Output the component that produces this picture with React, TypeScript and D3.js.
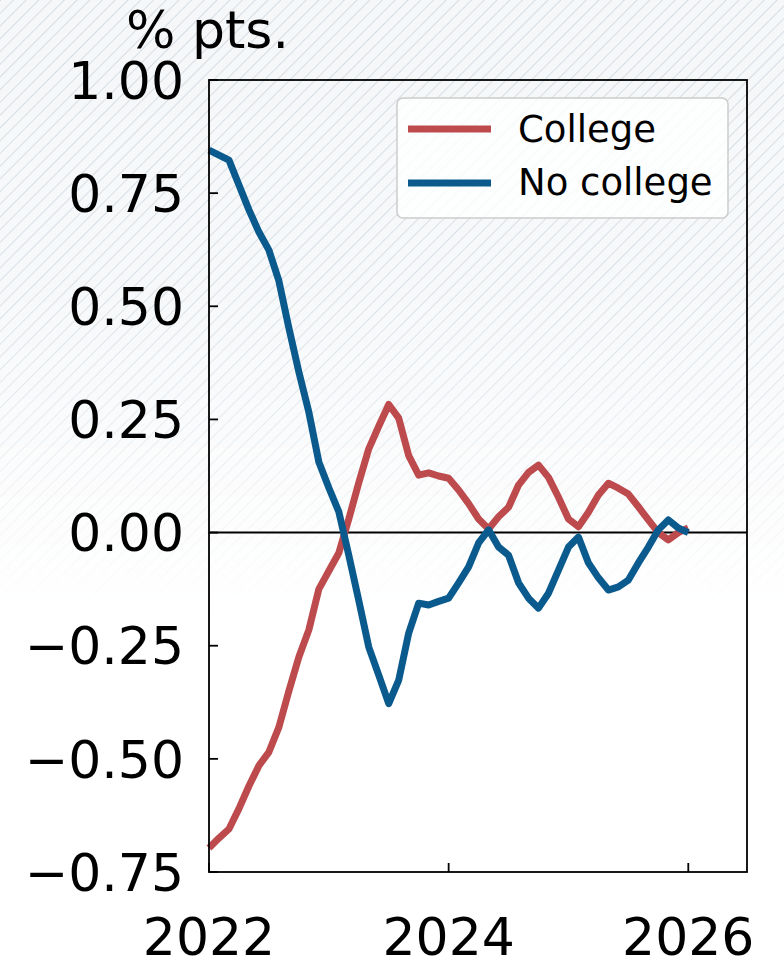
import React from 'react';
import * as d3 from 'd3';

// monthly, Jan 2022 .. Jan 2026
const startYear = 2022;
const college = [
  -0.697, -0.675, -0.655, -0.61, -0.56, -0.515, -0.485, -0.43, -0.35, -0.275, -0.215, -0.125,
  -0.085, -0.045, 0.03, 0.11, 0.185, 0.235, 0.283, 0.253, 0.17, 0.127, 0.132, 0.125,
  0.12, 0.094, 0.064, 0.03, 0.008, 0.035, 0.056, 0.105, 0.133, 0.149, 0.122, 0.078,
  0.03, 0.013, 0.045, 0.083, 0.109, 0.098, 0.085, 0.057, 0.028, 0.0, -0.016, 0.0,
  0.01,
];
const noCollege = [
  0.845, 0.834, 0.823, 0.768, 0.713, 0.664, 0.624, 0.556, 0.452, 0.355, 0.266, 0.156,
  0.099, 0.046, -0.05, -0.15, -0.253, -0.315, -0.378, -0.326, -0.222, -0.156, -0.16, -0.152,
  -0.145, -0.111, -0.076, -0.023, 0.006, -0.032, -0.05, -0.111, -0.145, -0.167, -0.134, -0.083,
  -0.032, -0.01, -0.067, -0.1, -0.127, -0.12, -0.105, -0.067, -0.032, 0.006, 0.028, 0.01,
  0.0,
];
const seriesNames = ['College', 'No college'];
const seriesColors = ['#bd4b4e', '#0a5a8e'];
const yTicks = [-0.75, -0.5, -0.25, 0, 0.25, 0.5, 0.75, 1.0];
const xTicks = [2022, 2024, 2026];

const W = 784;
const H = 963;
const left = 209;
const right = 747;
const top = 80;
const bottom = 872;

export default function App() {
  const x = d3.scaleLinear().domain([2022, 2026.49]).range([left, right]);
  const y = d3.scaleLinear().domain([-0.75, 1.0]).range([bottom, top]);
  const line = d3.line<number>()
    .x((_, i) => x(startYear + i / 12))
    .y(d => y(d));
  const fmt = (v: number) => d3.format('.2f')(v).replace('-', '\u2212');
  const font = 'DejaVu Sans, sans-serif';

  return (
    <svg width={W} height={H} style={{ position: 'absolute', left: 0, top: 0 }} fontFamily={font}>
      <defs>
        <pattern id="hatch" width="9" height="9" patternUnits="userSpaceOnUse" patternTransform="rotate(45)">
          <line x1="0" y1="0" x2="0" y2="9" stroke="#d0d8e0" strokeWidth="1.7" />
        </pattern>
        <linearGradient id="fade" x1="0" y1="0" x2="0" y2="1">
          <stop offset="0" stopColor="#fff" stopOpacity="1" />
          <stop offset="0.3" stopColor="#fff" stopOpacity="0.85" />
          <stop offset="0.64" stopColor="#fff" stopOpacity="0" />
        </linearGradient>
        <mask id="fadeMask">
          <rect x="0" y="0" width={W} height={H} fill="url(#fade)" />
        </mask>
      </defs>
      <rect width={W} height={H} fill="#fff" />
      <rect width={W} height={H} fill="#f5f7f9" mask="url(#fadeMask)" />
      <rect width={W} height={H} fill="url(#hatch)" mask="url(#fadeMask)" />

      {/* zero line */}
      <line x1={left} x2={right} y1={y(0)} y2={y(0)} stroke="#000" strokeWidth={2} />

      {[college, noCollege].map((s, i) => (
        <path key={i} d={line(s) ?? ''} fill="none" stroke={seriesColors[i]} strokeWidth={7}
          strokeLinejoin="round" strokeLinecap="butt" />
      ))}

      {/* frame */}
      <rect x={left} y={top} width={right - left} height={bottom - top} fill="none" stroke="#000" strokeWidth={1.8} />

      {yTicks.map(t => (
        <g key={t}>
          <line x1={left} x2={left + 9} y1={y(t)} y2={y(t)} stroke="#000" strokeWidth={1.8} />
          <text x={184} y={y(t)} dy="0.36em" textAnchor="end" fontSize={52}>{fmt(t)}</text>
        </g>
      ))}
      {xTicks.map(t => (
        <g key={t}>
          <line x1={x(t)} x2={x(t)} y1={bottom} y2={bottom - 9} stroke="#000" strokeWidth={1.8} />
          <text x={x(t)} y={955} textAnchor="middle" fontSize={52}>{t}</text>
        </g>
      ))}

      <text x={126} y={48} fontSize={52}>% pts.</text>

      {/* legend */}
      <rect x={397} y={98} width={331} height={120} rx={6} fill="#fff" fillOpacity={0.8} stroke="#cccccc" strokeWidth={1.5} />
      {seriesNames.map((n, i) => (
        <g key={n}>
          <line x1={408} x2={491} y1={129 + i * 54} y2={129 + i * 54} stroke={seriesColors[i]} strokeWidth={7} />
          <text x={518} y={142 + i * 53} fontSize={37}>{n}</text>
        </g>
      ))}
    </svg>
  );
}
